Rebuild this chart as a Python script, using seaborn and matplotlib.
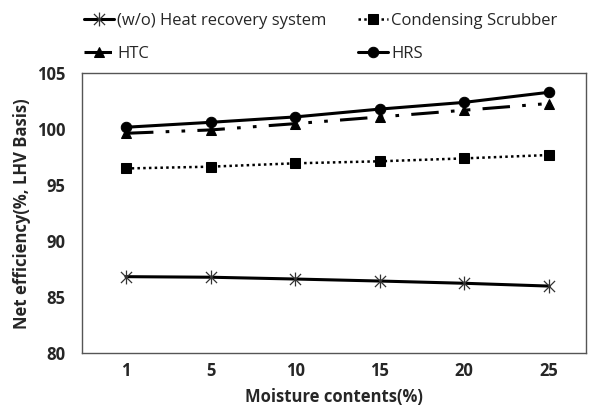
import numpy as np
import pandas as pd
import matplotlib
matplotlib.use("Agg")
import matplotlib.pyplot as plt
from matplotlib.path import Path
import seaborn as sns

# values
moisture = ["1", "5", "10", "15", "20", "25"]
wo_hrs = [86.84, 86.79, 86.63, 86.45, 86.25, 86.0]
scrubber = [96.5, 96.66, 96.96, 97.14, 97.4, 97.7]
htc = [99.64, 99.94, 100.5, 101.1, 101.7, 102.3]
hrs = [100.18, 100.62, 101.1, 101.8, 102.4, 103.3]

series_names = ["(w/o) Heat recovery system", "Condensing Scrubber", "HTC", "HRS"]
series_vals = [wo_hrs, scrubber, htc, hrs]

sns.set_theme(style="white")
plt.rcParams["font.family"] = ["Open Sans", "DejaVu Sans"]

# asterisk-like marker: an x with a vertical stroke
star = Path(
    [(-1, -1), (1, 1), (-1, 1), (1, -1), (0, -1.25), (0, 1.25)],
    [Path.MOVETO, Path.LINETO, Path.MOVETO, Path.LINETO, Path.MOVETO, Path.LINETO],
)

styles = [
    dict(marker=star, markersize=10, markerfacecolor="none", markeredgecolor="#333333",
         markeredgewidth=0.9, linestyle="-", linewidth=2.2),
    dict(marker="s", markersize=7.5, linestyle=(0, (1, 1.3)), linewidth=1.8),
    dict(marker="^", markersize=7.5, linestyle=(0, (9, 4, 1.2, 4, 1.2, 4)), linewidth=2.2),
    dict(marker="o", markersize=7.5, linestyle="-", linewidth=2.2),
]

fig = plt.figure(figsize=(5.91, 4.07), dpi=100)
ax = fig.add_axes([0.1387, 0.132, 0.8528, 0.688])

xpos = np.arange(len(moisture))
for name, vals, st in zip(series_names, series_vals, styles):
    df = pd.DataFrame({"x": xpos, "y": vals})
    sns.lineplot(data=df, x="x", y="y", ax=ax, color="black", label=name,
                 markeredgecolor=st.pop("markeredgecolor", "black"), **st)

ax.set_xlim(-0.52, 5.44)
ax.set_ylim(80, 105)
ax.set_xticks(xpos)
ax.set_xticklabels(moisture)
ax.set_yticks([80, 85, 90, 95, 100, 105])
ax.tick_params(axis="both", direction="in", length=4, width=0.8, color="#555555",
               labelsize=12)
ax.tick_params(axis="x", pad=6)
ax.tick_params(axis="y", pad=12)
for lab in ax.get_xticklabels() + ax.get_yticklabels():
    lab.set_fontweight("bold")
ax.set_xlabel("Moisture contents(%)", fontsize=12, fontweight="bold", labelpad=6)
ax.set_ylabel("Net efficiency(%, LHV Basis)", fontsize=12, fontweight="bold", labelpad=4)
ax.grid(False)
for side in ["left", "bottom", "right", "top"]:
    ax.spines[side].set_color("#555555")
    ax.spines[side].set_linewidth(1.0)
    ax.spines[side].set_visible(True)

# legend columns: (w/o, HTC) | (Condensing Scrubber, HRS)
handles, labels = ax.get_legend_handles_labels()
order = [0, 2, 1, 3]
ax.legend([handles[i] for i in order], [labels[i] for i in order],
          loc="lower left", bbox_to_anchor=(-0.02, 1.0), ncol=2, frameon=False,
          fontsize=12, handlelength=1.8, handletextpad=0.2, columnspacing=1.9,
          labelspacing=1.0, borderaxespad=0.3)

fig.savefig("out.png", dpi=100)
